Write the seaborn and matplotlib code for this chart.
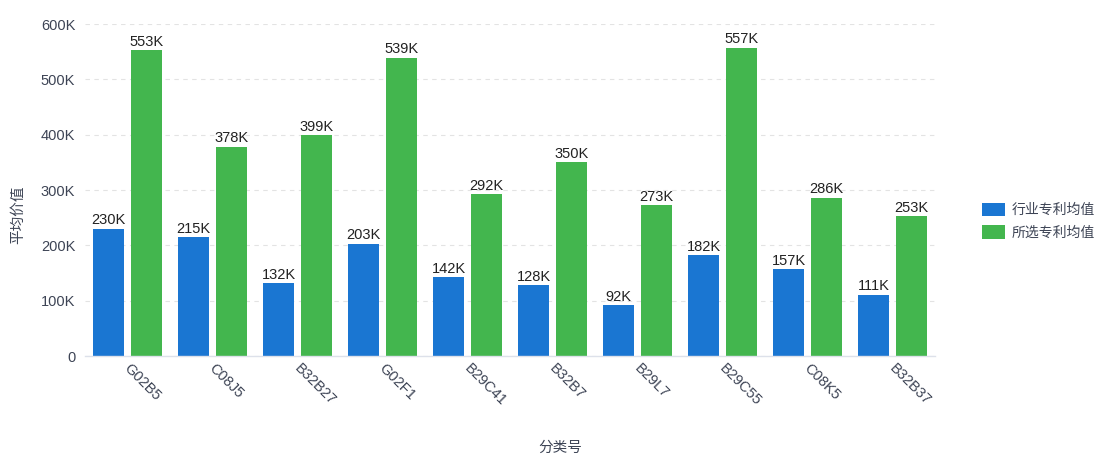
import matplotlib
matplotlib.use("Agg")
import matplotlib.pyplot as plt
import matplotlib.transforms as mtransforms
import seaborn as sns
import pandas as pd
from matplotlib.ticker import FuncFormatter

categories = ["G02B5", "C08J5", "B32B27", "G02F1", "B29C41", "B32B7", "B29L7", "B29C55", "C08K5", "B32B37"]
industry_avg = [230000, 215000, 132000, 203000, 142000, 128000, 92000, 182000, 157000, 111000]
selected_avg = [553000, 378000, 399000, 539000, 292000, 350000, 273000, 557000, 286000, 253000]
series_names = ["行业专利均值", "所选专利均值"]
y_ticks = [0, 100000, 200000, 300000, 400000, 500000, 600000]

sns.set_theme(style="white")
plt.rcParams["font.family"] = ["Liberation Sans", "Noto Sans CJK SC", "DejaVu Sans"]

df = pd.DataFrame({
    "分类号": categories * 2,
    "平均价值": industry_avg + selected_avg,
    "系列": [series_names[0]] * len(categories) + [series_names[1]] * len(categories),
})

fig = plt.figure(figsize=(10.99, 4.55), dpi=100)
ax = fig.add_axes([85 / 1099, 99 / 455, 850 / 1099, 332 / 455])

palette = {series_names[0]: "#1a76d2", series_names[1]: "#43b64e"}
sns.barplot(data=df, x="分类号", y="平均价值", hue="系列", palette=palette,
            width=0.894, gap=0.21, edgecolor="none", linewidth=0,
            saturation=1, ax=ax, legend=True)

text_color = "#3d4455"
for container in ax.containers:
    labels = [f"{v / 1000:.0f}K" for v in container.datavalues]
    ax.bar_label(container, labels=labels, padding=1, fontsize=10.5, color="#222222")

ax.set_ylim(0, 600000)
ax.set_yticks(y_ticks)
ax.yaxis.set_major_formatter(FuncFormatter(lambda v, _: "0" if v == 0 else f"{v / 1000:.0f}K"))
ax.grid(axis="y", color="#e3e3e3", linestyle=(0, (4, 4)), linewidth=0.8)
ax.set_axisbelow(True)
for side in ["top", "right", "left"]:
    ax.spines[side].set_visible(False)
ax.spines["bottom"].set_color("#dde1ea")
ax.spines["bottom"].set_linewidth(1)
ax.tick_params(axis="y", length=0, labelsize=10.5, colors=text_color, pad=7)
ax.tick_params(axis="x", length=0, labelsize=10.5, colors=text_color, pad=4)
shift = mtransforms.ScaledTranslation(4 / 100, 0, fig.dpi_scale_trans)
for lbl in ax.get_xticklabels():
    lbl.set_rotation(-45)
    lbl.set_ha("left")
    lbl.set_va("top")
    lbl.set_rotation_mode("anchor")
    lbl.set_transform(lbl.get_transform() + shift)

ax.set_xlabel("分类号", fontsize=10.5, color=text_color)
ax.xaxis.set_label_coords((560 - 85) / 850, -0.255)
ax.set_ylabel("平均价值", fontsize=10.5, color=text_color)
ax.yaxis.set_label_coords(-0.07, 0.425)

ax.legend(loc="upper left", bbox_to_anchor=(976 / 1099, 258 / 455),
          bbox_transform=fig.transFigure, frameon=False, fontsize=10,
          handlelength=1.7, handleheight=1.15, handletextpad=0.45,
          labelspacing=0.55, labelcolor=text_color, borderaxespad=0)

fig.savefig("out.png", dpi=100)
